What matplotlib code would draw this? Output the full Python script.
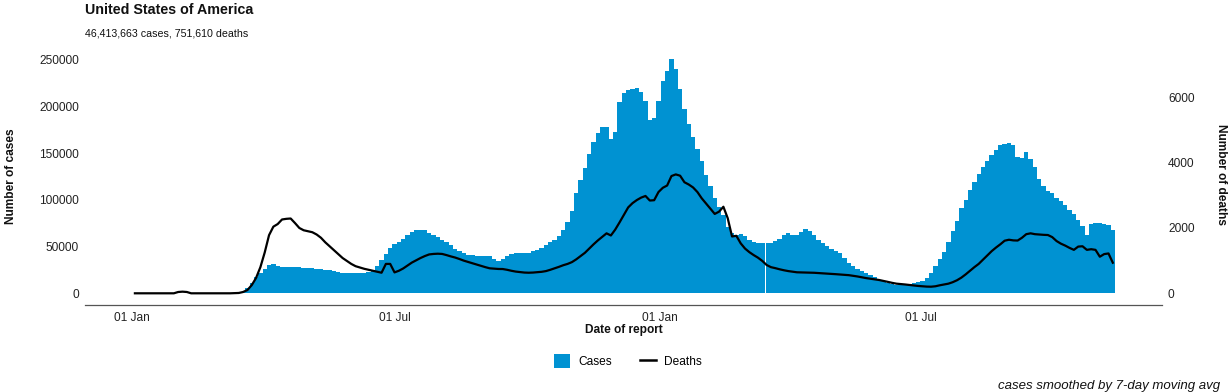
import matplotlib
matplotlib.use("Agg")
import matplotlib.pyplot as plt
import matplotlib.dates as mdates
from matplotlib.patches import Patch
from matplotlib.lines import Line2D
import numpy as np
import pandas as pd

plt.rcParams['font.family'] = ['Liberation Sans', 'DejaVu Sans']

title = "United States of America"
subtitle = "46,413,663 cases, 751,610 deaths"
caption = "cases smoothed by 7-day moving avg"
x_label = "Date of report"
y_label_left = "Number of cases"
y_label_right = "Number of deaths"
legend_labels = ["Cases", "Deaths"]

# series sampled every 3 days starting at first_date
first_date = "2020-01-03"
step_days = 3

cases = [
    0, 0, 0, 0, 0, 0, 0, 0, 0, 0,
    0, 0, 0, 0, 0, 0, 0, 0, 0, 0,
    10, 50, 150, 400, 900, 1700, 5500, 11000, 17000, 22000,
    26000, 29800, 31000, 29500, 28300, 28000, 27900, 28500, 28500, 27500,
    26800, 26600, 26200, 26000, 25300, 25000, 23500, 22300, 22000, 21600,
    21400, 21400, 21400, 22000, 23000, 25000, 29000, 35500, 42000, 48500,
    52500, 55000, 58500, 62500, 65500, 67600, 68000, 67500, 65000, 62500,
    60000, 57500, 54500, 51500, 48000, 45000, 43500, 41500, 40800, 40400,
    40300, 40300, 40000, 36500, 34800, 36500, 39500, 42000, 43000, 43000,
    42900, 43500, 45500, 46500, 49000, 51500, 54500, 57500, 61000, 68000,
    76000, 88000, 107000, 121000, 134000, 149000, 162000, 172000, 178000, 178000,
    165000, 173000, 205000, 215000, 217500, 218500, 219500, 216000, 206000, 186000,
    188000, 206000, 227000, 238500, 251500, 240000, 219000, 197000, 181000, 168000,
    155000, 142000, 127000, 115000, 102500, 93000, 83500, 71000, 64500, 62500,
    64000, 61000, 57500, 55500, 54000, 53600, 53600, 54000, 56000, 58500,
    62500, 64300, 63000, 62500, 66000, 68900, 67000, 63000, 57000, 53500,
    50500, 48000, 45500, 42800, 38000, 33000, 29500, 26500, 24000, 21500,
    19300, 17000, 14600, 13000, 11500, 10000, 8900, 9500, 10000, 10500,
    10700, 12000, 13500, 16000, 22000, 29000, 37000, 44500, 55000, 66500,
    78000, 91000, 100000, 111000, 119500, 127500, 135500, 141500, 148000, 153500,
    159000, 160500, 160700, 159000, 146400, 145500, 151000, 144000, 135000, 123000,
    115000, 110000, 107000, 102000, 99000, 94500, 89500, 85000, 79000, 72000,
    62000, 74000, 75500, 75000, 74500, 73500, 67800,
]

deaths = [
    0, 0, 0, 0, 0, 0, 0, 0, 0, 0,
    40, 50, 40, 0, 0, 0, 0, 0, 0, 0,
    0, 0, 0, 5, 10, 40, 100, 250, 470, 800,
    1250, 1780, 2040, 2120, 2260, 2280, 2290, 2150, 2000, 1930,
    1900, 1870, 1800, 1700, 1560, 1440, 1320, 1200, 1080, 990,
    900, 830, 790, 750, 720, 690, 660, 630, 900, 900,
    640, 690, 760, 850, 940, 1010, 1080, 1140, 1190, 1205,
    1212, 1205, 1170, 1130, 1095, 1050, 1000, 960, 920, 880,
    840, 800, 765, 755, 745, 743, 720, 690, 665, 650,
    635, 630, 635, 645, 658, 680, 720, 765, 810, 860,
    900, 955, 1040, 1140, 1240, 1370, 1500, 1620, 1730, 1836,
    1770, 1950, 2170, 2400, 2630, 2760, 2855, 2930, 2980, 2840,
    2850, 3100, 3230, 3300, 3590, 3640, 3600, 3400, 3330, 3240,
    3100, 2907, 2750, 2590, 2430, 2500, 2650, 2300, 1740, 1760,
    1530, 1370, 1260, 1170, 1090, 990, 866, 800, 770, 735,
    705, 680, 660, 643, 640, 636, 632, 628, 620, 612,
    605, 595, 585, 575, 565, 555, 535, 515, 490, 465,
    445, 425, 407, 380, 350, 320, 295, 284, 270, 255,
    240, 225, 215, 205, 202, 215, 245, 270, 295, 340,
    400, 480, 580, 690, 800, 900, 1030, 1160, 1290, 1400,
    1500, 1610, 1640, 1620, 1615, 1700, 1810, 1836, 1810, 1800,
    1790, 1784, 1720, 1600, 1520, 1460, 1390, 1330, 1430, 1440,
    1330, 1350, 1330, 1120, 1200, 1220, 936,
]

no_report_dates = ["2021-03-15"]

x_tick_dates = ["2020-01-01", "2020-07-01", "2021-01-01", "2021-07-01"]
x_tick_labels = ["01 Jan", "01 Jul", "01 Jan", "01 Jul"]
case_ticks = [0, 50000, 100000, 150000, 200000, 250000]
death_ticks = [0, 2000, 4000, 6000]
deaths_scale = 35  # secondary axis: deaths * 35 == cases

dates = pd.date_range(first_date, periods=len(cases), freq=f"{step_days}D")

W, H = 1230, 392
fig = plt.figure(figsize=(W / 100, H / 100), dpi=100)
ax = fig.add_axes([85 / W, 1 - 305 / H, 1077 / W, 257.4 / H])
ax2 = ax.twinx()

blue = '#0092d2'
ax.bar(dates, cases, width=step_days, color=blue, linewidth=0,
       antialiased=False, zorder=2)

s_cases = pd.Series(cases, index=dates)
for d in no_report_dates:
    dt = pd.Timestamp(d)
    h = s_cases.iloc[s_cases.index.get_indexer([dt], method='nearest')[0]]
    ax.bar([dt], [h], width=0.8, color='white', linewidth=0, zorder=3)

ax2.plot(dates, deaths, color='black', lw=1.6, solid_joinstyle='round', zorder=4)

# limits (5% expansion like ggplot)
data_max = 250740
ax.set_ylim(-0.05 * data_max, 1.05 * data_max)
ax2.set_ylim(-0.05 * data_max / deaths_scale, 1.05 * data_max / deaths_scale)
base = mdates.date2num(pd.Timestamp("2020-01-01"))
ax.set_xlim(base - 32.6, base + 714.1)

ax.set_xticks([mdates.date2num(pd.Timestamp(d)) for d in x_tick_dates])
ax.set_xticklabels(x_tick_labels)
ax.set_yticks(case_ticks)
ax.set_yticklabels([str(v) for v in case_ticks])
ax2.set_yticks(death_ticks)
ax2.set_yticklabels([str(v) for v in death_ticks])

tc = '#222222'
ax.tick_params(axis='x', length=0, labelsize=8.6, colors=tc, pad=5)
ax.tick_params(axis='y', length=0, labelsize=8.6, colors=tc, pad=4.3)
ax2.tick_params(axis='y', length=0, labelsize=8.6, colors=tc, pad=4.3)

for sp in ['top', 'left', 'right']:
    ax.spines[sp].set_visible(False)
ax.spines['bottom'].set_color('#555555')
ax.spines['bottom'].set_linewidth(0.9)
for sp in ax2.spines.values():
    sp.set_visible(False)

# texts
fig.text(85 / W, 1 - 14 / H, title, fontsize=10.3, fontweight='bold',
         ha='left', va='baseline', color='#111111')
fig.text(85 / W, 1 - 36 / H, subtitle, fontsize=7.7,
         ha='left', va='baseline', color='#111111')
fig.text(11 / W, 1 - 176 / H, y_label_left, fontsize=8.6, fontweight='bold',
         rotation=90, ha='center', va='center', color='#111111')
fig.text(1221.5 / W, 1 - 174 / H, y_label_right, fontsize=8.6, fontweight='bold',
         rotation=270, ha='center', va='center', color='#111111')
fig.text(624 / W, 1 - 333.3 / H, x_label, fontsize=8.6, fontweight='bold',
         ha='center', va='baseline', color='#111111')
fig.text(1220 / W, 1 - 388.5 / H, caption, fontsize=9.5, style='italic',
         ha='right', va='baseline', color='#111111')

handles = [Patch(facecolor=blue, edgecolor='none', label=legend_labels[0]),
           Line2D([], [], color='black', lw=1.8, label=legend_labels[1])]
fig.legend(handles=handles, loc='center', bbox_to_anchor=(628 / W, 1 - 361 / H),
           ncol=2, frameon=False, fontsize=8.6, handlelength=1.35,
           handleheight=1.35, handletextpad=0.65, columnspacing=2.4,
           borderpad=0, borderaxespad=0)

fig.savefig("out.png", dpi=100)
